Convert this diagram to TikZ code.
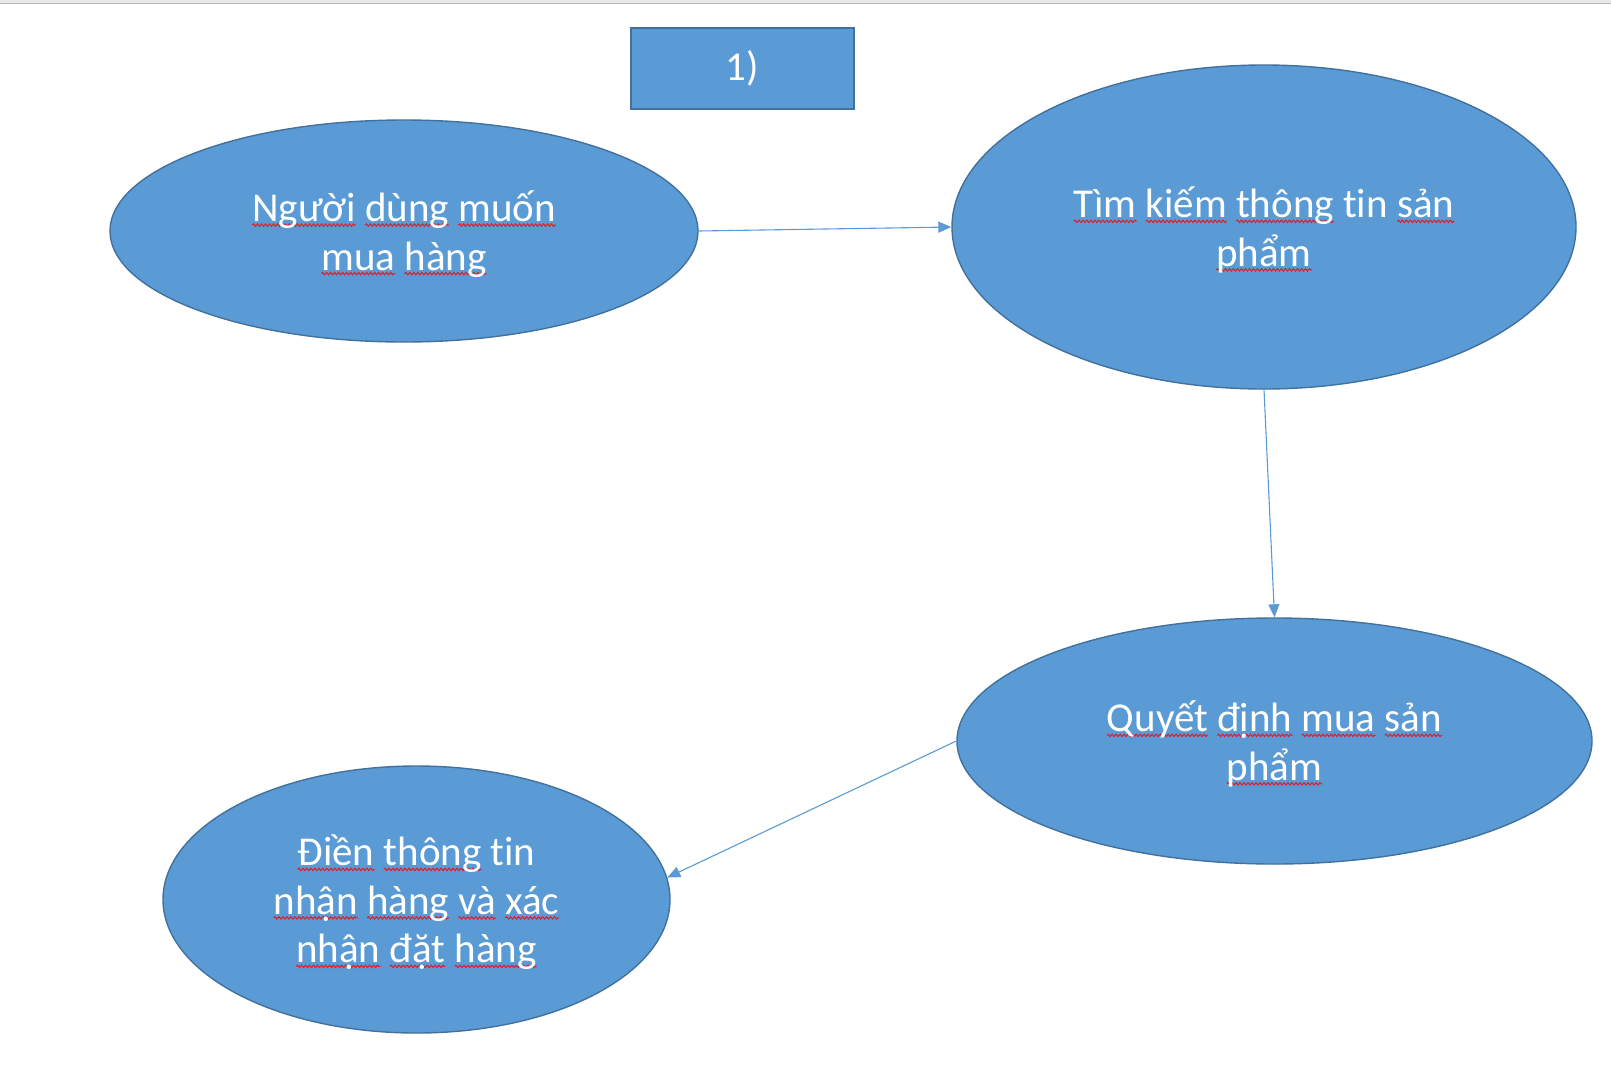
\documentclass[tikz,border=0pt]{standalone}
\usepackage{fontspec}
\setmainfont{Carlito}[RawFeature={-liga}]
\usetikzlibrary{shapes.geometric,arrows.meta,decorations.pathmorphing}
\definecolor{ofill}{HTML}{5B9BD5}
\definecolor{oline}{HTML}{41719C}
\definecolor{squig}{HTML}{E0202A}
\newsavebox\sqbox
\newcommand\sq[1]{\sbox\sqbox{#1}\rlap{\tikz[baseline=0pt]{\useasboundingbox (0pt,0pt);\draw[squig,line width=1.1pt,decorate,decoration={snake,amplitude=1.2pt,segment length=4pt}] (0pt,-3.5pt) -- (\wd\sqbox,-3.5pt);}}\usebox\sqbox}
\begin{document}
\begin{tikzpicture}[x=1pt,y=-1pt,
  bubble/.style={ellipse,draw=oline,line width=1.4pt,fill=ofill,inner sep=0pt},
  words/.style={inner sep=0pt,text=white,align=center,font=\fontsize{41}{48.5}\selectfont,yshift=-3pt},
  titlebox/.style={rectangle,draw=oline,line width=1.6pt,fill=ofill,inner sep=0pt,
    text=white,font=\fontsize{41}{48}\selectfont},
  flow/.style={draw=ofill,line width=1.1pt,-{Triangle[length=13pt,width=11pt]}}]
\useasboundingbox (0,0) rectangle (1611,1069);
\fill[white] (0,0) rectangle (1611,1069);
\fill[gray!18] (0,0) rectangle (1611,3);
\draw[gray!55,line width=1pt] (0,3.5) -- (1611,3.5);
\node[titlebox,minimum width=223pt,minimum height=81pt] (t) at (742.5,68.5) {1)};
\node[bubble,minimum width=588pt,minimum height=222pt] (e1) at (404,231) {};
\node[bubble,minimum width=624pt,minimum height=324pt] (e2) at (1264,227) {};
\node[bubble,minimum width=635pt,minimum height=246pt] (e3) at (1274.5,741) {};
\node[bubble,minimum width=507pt,minimum height=267pt] (e4) at (416.5,899.5) {};
\node[words] (w1) at (e1.center) {\sq{Người} \sq{dùng} \sq{muốn}\\ \sq{mua} \sq{hàng}};
\node[words] (w2) at (e2.center) {\sq{Tìm} \sq{kiếm} \sq{thông} tin \sq{sản}\\ \sq{phẩm}};
\node[words] (w3) at (e3.center) {\sq{Quyết} \sq{định} \sq{mua} \sq{sản}\\ \sq{phẩm}};
\node[words] (w4) at (e4.center) {\sq{Điền} \sq{thông} tin\\ \sq{nhận} \sq{hàng} \sq{và} \sq{xác}\\ \sq{nhận} \sq{đặt} \sq{hàng}};
\draw[flow] (e1.east) -- (e2.west);
\draw[flow] (e2.south) -- (e3.north);
\draw[flow] (e3.west) -- (e4.5);
\end{tikzpicture}
\end{document}
